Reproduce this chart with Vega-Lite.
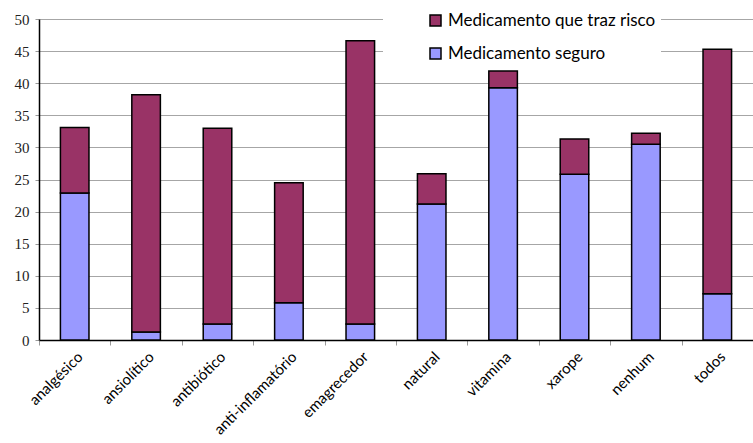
{
  "$schema": "https://vega.github.io/schema/vega-lite/v6.json",
  "autosize": "none",
  "padding": {"left": 39, "top": 19, "right": 0, "bottom": 103},
  "width": 714,
  "height": 321,
  "background": "white",
  "config": {"view": {"stroke": null}},
  "data": {
    "values": [
      {"tipo": "analgésico", "serie": "Medicamento seguro", "ordem": 1, "valor": 22.9},
      {"tipo": "analgésico", "serie": "Medicamento que traz risco", "ordem": 2, "valor": 10.2},
      {"tipo": "ansiolítico", "serie": "Medicamento seguro", "ordem": 1, "valor": 1.25},
      {"tipo": "ansiolítico", "serie": "Medicamento que traz risco", "ordem": 2, "valor": 36.95},
      {"tipo": "antibiótico", "serie": "Medicamento seguro", "ordem": 1, "valor": 2.5},
      {"tipo": "antibiótico", "serie": "Medicamento que traz risco", "ordem": 2, "valor": 30.5},
      {"tipo": "anti-inflamatório", "serie": "Medicamento seguro", "ordem": 1, "valor": 5.8},
      {"tipo": "anti-inflamatório", "serie": "Medicamento que traz risco", "ordem": 2, "valor": 18.7},
      {"tipo": "emagrecedor", "serie": "Medicamento seguro", "ordem": 1, "valor": 2.5},
      {"tipo": "emagrecedor", "serie": "Medicamento que traz risco", "ordem": 2, "valor": 44.1},
      {"tipo": "natural", "serie": "Medicamento seguro", "ordem": 1, "valor": 21.2},
      {"tipo": "natural", "serie": "Medicamento que traz risco", "ordem": 2, "valor": 4.7},
      {"tipo": "vitamina", "serie": "Medicamento seguro", "ordem": 1, "valor": 39.3},
      {"tipo": "vitamina", "serie": "Medicamento que traz risco", "ordem": 2, "valor": 2.6},
      {"tipo": "xarope", "serie": "Medicamento seguro", "ordem": 1, "valor": 25.8},
      {"tipo": "xarope", "serie": "Medicamento que traz risco", "ordem": 2, "valor": 5.5},
      {"tipo": "nenhum", "serie": "Medicamento seguro", "ordem": 1, "valor": 30.5},
      {"tipo": "nenhum", "serie": "Medicamento que traz risco", "ordem": 2, "valor": 1.7},
      {"tipo": "todos", "serie": "Medicamento seguro", "ordem": 1, "valor": 7.2},
      {"tipo": "todos", "serie": "Medicamento que traz risco", "ordem": 2, "valor": 38.1}
    ]
  },
  "mark": {"type": "bar", "width": {"band": 0.4}, "stroke": "black", "strokeWidth": 1.5},
  "encoding": {
    "x": {
      "field": "tipo",
      "type": "nominal",
      "sort": null,
      "scale": {"paddingInner": 0, "paddingOuter": 0},
      "axis": {
        "title": null,
        "labelAngle": -45,
        "labelFont": "Lato",
        "labelFontSize": 15,
        "labelColor": "black",
        "labelPadding": 4,
        "tickBand": "extent",
        "tickColor": "#999999",
        "tickSize": 5,
        "domainColor": "black",
        "domainWidth": 1.5,
        "grid": false
      }
    },
    "y": {
      "field": "valor",
      "type": "quantitative",
      "stack": "zero",
      "scale": {"domain": [0, 50], "nice": false},
      "axis": {
        "title": null,
        "values": [0, 5, 10, 15, 20, 25, 30, 35, 40, 45, 50],
        "labelFont": "Liberation Serif",
        "labelFontSize": 15,
        "labelColor": "#222222",
        "labelPadding": 6,
        "tickColor": "#999999",
        "tickSize": 4,
        "domainColor": "black",
        "domainWidth": 1.5,
        "grid": true,
        "gridColor": "#a6a6a6",
        "gridWidth": 1
      }
    },
    "color": {
      "field": "serie",
      "type": "nominal",
      "scale": {
        "domain": ["Medicamento que traz risco", "Medicamento seguro"],
        "range": ["#993366", "#9999FF"]
      },
      "legend": {
        "title": null,
        "orient": "none",
        "legendX": 344,
        "legendY": -12,
        "fillColor": "white",
        "padding": 5,
        "symbolOffset": 39,
        "symbolType": "square",
        "symbolSize": 121,
        "symbolStrokeColor": "black",
        "symbolStrokeWidth": 1.5,
        "labelFont": "Lato",
        "labelFontSize": 17,
        "labelColor": "black",
        "labelOffset": 4,
        "rowPadding": 15,
        "labelLimit": 300
      }
    },
    "order": {"field": "ordem", "type": "quantitative"}
  }
}
